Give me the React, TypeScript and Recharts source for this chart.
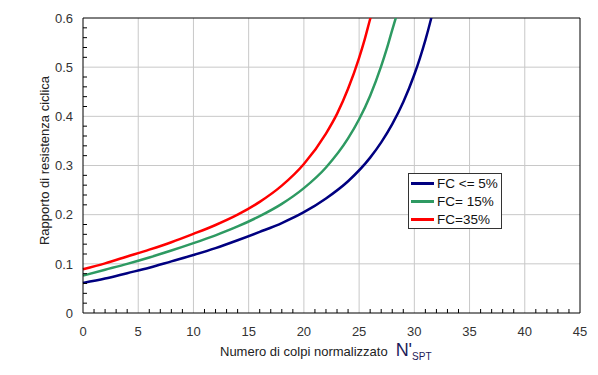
import React from 'react';
import { LineChart, Line, XAxis, YAxis, Legend, ReferenceLine } from 'recharts';

// Numero di colpi normalizzato (N'SPT) and CRR
const cleanN = [0, 2, 4, 6, 8, 10, 12, 14, 16, 18, 20, 22, 24, 26, 27, 28, 29, 30, 30.5, 31, 31.5, 31.6];
const cleanCRR = [0.061, 0.07, 0.081, 0.092, 0.105, 0.118, 0.132, 0.148, 0.165, 0.183, 0.205, 0.233, 0.268, 0.316, 0.347, 0.384, 0.429, 0.485, 0.518, 0.555, 0.597, 0.606];

const fc15N = [0, 2, 4, 6, 8, 10, 12, 14, 16, 18, 20, 22, 24, 25, 26, 27, 27.5, 28, 28.4];
const fc15CRR = [0.076, 0.088, 0.1, 0.113, 0.127, 0.142, 0.158, 0.176, 0.197, 0.222, 0.254, 0.296, 0.355, 0.394, 0.442, 0.502, 0.537, 0.576, 0.606];

const fc35N = [0, 2, 4, 6, 8, 10, 12, 14, 16, 18, 20, 22, 23, 24, 25, 25.5, 26, 26.1];
const fc35CRR = [0.089, 0.101, 0.115, 0.129, 0.144, 0.161, 0.179, 0.2, 0.226, 0.259, 0.303, 0.365, 0.405, 0.456, 0.519, 0.556, 0.598, 0.606];

const xMajor = [0, 5, 10, 15, 20, 25, 30, 35, 40, 45];
const xTicks = [0, 1, 2, 3, 4, 5, 6, 7, 8, 9, 10, 11, 12, 13, 14, 15, 16, 17, 18, 19, 20, 21, 22, 23, 24, 25, 26, 27, 28, 29, 30, 31, 32, 33, 34, 35, 36, 37, 38, 39, 40, 41, 42, 43, 44, 45];
const yMajor = [0, 0.1, 0.2, 0.3, 0.4, 0.5, 0.6];
const yTicks = [0, 0.02, 0.04, 0.06, 0.08, 0.1, 0.12, 0.14, 0.16, 0.18, 0.2, 0.22, 0.24, 0.26, 0.28, 0.3, 0.32, 0.34, 0.36, 0.38, 0.4, 0.42, 0.44, 0.46, 0.48, 0.5, 0.52, 0.54, 0.56, 0.58, 0.6];

const toRows = (ns: number[], vals: number[]) => ns.map((n, i) => ({ n, crr: vals[i] }));
const cleanData = toRows(cleanN, cleanCRR);
const fc15Data = toRows(fc15N, fc15CRR);
const fc35Data = toRows(fc35N, fc35CRR);

const FONT = '"Liberation Sans", Arial, sans-serif';
const isMajor = (list: number[], v: number) => list.some((m) => Math.abs(m - v) < 1e-6);

const XTick = (props: any) => {
  const { x, y, payload } = props;
  const major = isMajor(xMajor, payload.value);
  return (
    <g>
      {!major && <line x1={x} x2={x} y1={y - 14} y2={y - 18} stroke="#000" strokeWidth={1} />}
      {major && (
        <text x={x} y={y} dy="0.71em" textAnchor="middle" fontFamily={FONT} fontSize={13} fill="#333">
          {payload.value}
        </text>
      )}
    </g>
  );
};

const YTick = (props: any) => {
  const { x, y, payload } = props;
  const major = isMajor(yMajor, payload.value);
  return (
    <g>
      {!major && <line x1={x + 10} x2={x + 14} y1={y} y2={y} stroke="#000" strokeWidth={1} />}
      {major && (
        <text x={x} y={y} dy="0.36em" textAnchor="end" fontFamily={FONT} fontSize={13} fill="#333">
          {String(payload.value)}
        </text>
      )}
    </g>
  );
};

const XLabel = ({ viewBox }: any) => (
  <text x={viewBox.x + 137} y={viewBox.y + 43} fontFamily={FONT} fill="#222">
    <tspan fontSize={13}>Numero di colpi normalizzato</tspan>
    <tspan fontSize={18} dx={8} fill="#1c1c5a">N'</tspan>
    <tspan fontSize={10} dy={4} fill="#1c1c5a">SPT</tspan>
  </text>
);

const YLabel = ({ viewBox }: any) => {
  const cx = viewBox.x + 44;
  const cy = viewBox.y + viewBox.height / 2 - 5;
  return (
    <text
      x={cx}
      y={cy}
      transform={`rotate(-90, ${cx}, ${cy})`}
      textAnchor="middle"
      dominantBaseline="central"
      fontFamily={FONT}
      fontSize={13}
      fill="#222"
    >
      Rapporto di resistenza ciclica
    </text>
  );
};

const LegendBox = ({ payload }: any) => (
  <div
    style={{
      border: '1px solid #333',
      background: '#fff',
      width: 94,
      height: 56,
      boxSizing: 'border-box',
      paddingLeft: 2,
      fontFamily: FONT,
      fontSize: 13.5,
      color: '#111',
    }}
  >
    {(payload || []).map((entry: any) => (
      <div key={entry.value} style={{ height: 18, display: 'flex', alignItems: 'center' }}>
        <span style={{ display: 'inline-block', width: 23, height: 3, background: entry.color, marginRight: 3 }} />
        <span style={{ whiteSpace: 'pre' }}>{entry.value}</span>
      </div>
    ))}
  </div>
);

export default function App() {
  return (
    <div style={{ position: 'absolute', left: 0, top: 0, width: 598, height: 375, background: '#fff' }}>
      <LineChart width={598} height={375} margin={{ top: 18, right: 18, bottom: 0, left: 0 }}>
        <XAxis
          type="number"
          dataKey="n"
          domain={[0, 45]}
          ticks={xTicks}
          interval={0}
          height={62}
          tickSize={0}
          tickMargin={14}
          tickLine={false}
          axisLine={{ stroke: '#000', strokeWidth: 1 }}
          tick={<XTick />}
          label={<XLabel />}
        />
        <YAxis
          type="number"
          domain={[0, 0.6]}
          ticks={yTicks}
          interval={0}
          width={83}
          tickSize={0}
          tickMargin={10}
          tickLine={false}
          allowDataOverflow
          axisLine={{ stroke: '#000', strokeWidth: 1 }}
          tick={<YTick />}
          label={<YLabel />}
        />
        {xMajor.slice(1, -1).map((v) => (
          <ReferenceLine key={`gx${v}`} x={v} stroke="#c8c8c8" strokeWidth={1} />
        ))}
        {yMajor.slice(1, -1).map((v) => (
          <ReferenceLine key={`gy${v}`} y={v} stroke="#c8c8c8" strokeWidth={1} />
        ))}
        <ReferenceLine y={0.6} stroke="#000" strokeWidth={1} />
        <ReferenceLine x={45} stroke="#000" strokeWidth={1} />
        <Legend
          layout="horizontal"
          verticalAlign="middle"
          align="center"
          content={<LegendBox />}
          wrapperStyle={{ left: 408, top: 173, width: 95, height: 56 }}
        />
        <Line data={cleanData} dataKey="crr" name="FC <= 5%" type="monotone" stroke="#000080" strokeWidth={2.5} dot={false} isAnimationActive={false} />
        <Line data={fc15Data} dataKey="crr" name="FC= 15%" type="monotone" stroke="#2e9a62" strokeWidth={2.5} dot={false} isAnimationActive={false} />
        <Line data={fc35Data} dataKey="crr" name="FC=35%" type="monotone" stroke="#ff0000" strokeWidth={2.5} dot={false} isAnimationActive={false} />
      </LineChart>
    </div>
  );
}
